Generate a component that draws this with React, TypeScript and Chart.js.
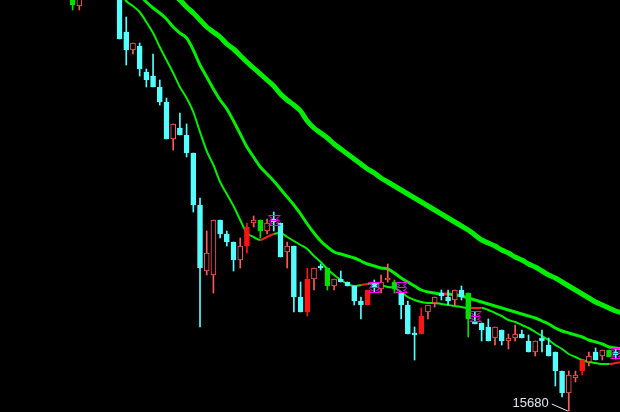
import React, { useEffect, useRef } from 'react';
import { Chart, registerables } from 'chart.js';

Chart.register(...registerables);

// ---- candle data (index 0..81) ----
const openPrices = [
  19810, 19730, 19820, 19980, 20150, 20080, 19960, 19860, 19470, 19290,
  19330, 19070, 19030, 18920, 18770, 18400, 18510, 18440, 18260, 17740,
  17080, 17040, 17590, 17450, 17370, 17190, 17330, 17560, 17590, 17480,
  17600, 17560, 17270, 17330, 16820, 16670, 17000, 17130, 17110, 16930,
  17000, 16970, 16930, 16780, 16740, 16950, 16900, 16990, 16970, 16860,
  16740, 16460, 16450, 16670, 16760, 16860, 16820, 16790, 16890, 16860,
  16570, 16560, 16520, 16410, 16490, 16380, 16410, 16450, 16380, 16270,
  16410, 16340, 16270, 16080, 15860, 16010, 16080, 16170, 16270, 16230,
  16290, 16270,
];
const highPrices = [
  19830, 19850, 20010, 20190, 20230, 20110, 19990, 19880, 19620, 19360,
  19360, 19100, 19250, 18990, 18810, 18550, 18660, 18550, 18260, 17810,
  17480, 17590, 17590, 17480, 17370, 17410, 17560, 17630, 17590, 17600,
  17670, 17560, 17370, 17330, 16970, 17110, 17110, 17150, 17110, 17000,
  17080, 16970, 16930, 16820, 16890, 16990, 17040, 17150, 16990, 16860,
  16780, 16520, 16710, 16740, 16820, 16890, 16890, 16890, 16930, 16860,
  16670, 16560, 16600, 16520, 16490, 16450, 16540, 16490, 16440, 16380,
  16490, 16410, 16270, 16080, 16080, 16080, 16190, 16270, 16310, 16290,
  16290, 16300,
];
const lowPrices = [
  19690, 19690, 19810, 19950, 20040, 19920, 19830, 19400, 19140, 19250,
  19030, 18920, 18920, 18740, 18400, 18290, 18440, 18220, 17670, 16520,
  17040, 16860, 17410, 17330, 17080, 17110, 17260, 17520, 17410, 17450,
  17480, 17220, 17110, 16670, 16670, 16630, 16890, 17090, 16890, 16890,
  16970, 16930, 16740, 16600, 16740, 16870, 16860, 16970, 16860, 16600,
  16450, 16190, 16450, 16600, 16720, 16790, 16740, 16740, 16790, 16420,
  16550, 16380, 16380, 16340, 16340, 16300, 16380, 16410, 16270, 16230,
  16270, 16230, 15930, 15820, 15680, 15970, 16040, 16130, 16190, 16190,
  16220, 16200,
];
const closePrices = [
  19740, 19810, 19980, 20150, 20080, 19960, 19880, 19400, 19290, 19360,
  19100, 18990, 18920, 18770, 18400, 18550, 18440, 18260, 17740, 17110,
  17260, 17590, 17450, 17370, 17190, 17330, 17520, 17590, 17480, 17560,
  17570, 17220, 17330, 16820, 16670, 17000, 17110, 17110, 16930, 17000,
  16970, 16930, 16780, 16740, 16890, 16920, 16970, 17010, 16900, 16740,
  16450, 16440, 16630, 16740, 16820, 16830, 16780, 16890, 16820, 16600,
  16550, 16490, 16380, 16520, 16380, 16410, 16450, 16410, 16270, 16380,
  16380, 16230, 16080, 15860, 16040, 16040, 16190, 16230, 16190, 16290,
  16220, 16240,
];
// c = cyan down, h = hollow red up, r = filled red, g = filled green
const candleStyle =
  'ghhhccccch' + 'ccccchcccc' + 'hhccchrhgh' + 'cchccrhcgh' + 'ccccrchhgc' +
  'ccrhhcchcg' + 'ccchchhcch' + 'cccchhrhch' + 'gc';

// ---- moving averages ----
const maShortStart = 7;
const maShort = [
  19890, 19780, 19730, 19670, 19570, 19460, 19320, 19190, 19060, 18920,
  18810, 18670, 18470, 18280, 18140, 17970, 17850, 17730, 17590, 17460,
  17420, 17390, 17420, 17450, 17460, 17420, 17380, 17340, 17300, 17230,
  17170, 17100, 17040, 16990, 16950, 16930, 16940, 16950, 16960, 16940,
  16920, 16910, 16870, 16820, 16790, 16770, 16760, 16760, 16750, 16740,
  16730, 16720, 16710, 16710, 16710, 16690, 16660, 16630, 16590, 16570,
  16540, 16510, 16470, 16430, 16390, 16340, 16300, 16250, 16220, 16190,
  16170, 16160, 16150, 16150, 16160, 16170,
];
const maShortRedFrom = [28, 29, 43, 59, 60, 80, 81];

const maMidStart = 10;
const maMid = [
  19840, 19770, 19710, 19660, 19600, 19520, 19460, 19410, 19290, 19140,
  19020, 18900, 18790, 18700, 18580, 18450, 18320, 18220, 18120, 18050,
  17980, 17900, 17820, 17740, 17650, 17550, 17460, 17380, 17320, 17270,
  17250, 17230, 17210, 17180, 17150, 17130, 17110, 17100, 17060, 17010,
  16970, 16930, 16890, 16870, 16860, 16850, 16850, 16840, 16830, 16810,
  16790, 16770, 16750, 16730, 16710, 16690, 16670, 16650, 16630, 16610,
  16580, 16550, 16510, 16480, 16460, 16440, 16420, 16390, 16370, 16350,
  16320, 16310, 16300,
];
const maMidRedFrom = [55];

const maLongStart = 15;
const maLong = [
  19850, 19790, 19720, 19660, 19590, 19520, 19470, 19420, 19350, 19300,
  19235, 19170, 19110, 19050, 18990, 18930, 18850, 18790, 18740, 18680,
  18580, 18510, 18460, 18410, 18350, 18300, 18250, 18200, 18150, 18100,
  18060, 18010, 17970, 17930, 17890, 17850, 17810, 17770, 17730, 17690,
  17650, 17610, 17570, 17530, 17490, 17440, 17390, 17360, 17330, 17290,
  17260, 17220, 17190, 17150, 17120, 17080, 17040, 17010, 16970, 16930,
  16890, 16850, 16810, 16770, 16740, 16710, 16680, 16660,
];

// ---- signal markers ----
const markerIndex = [30, 45, 49, 60, 81];
const markerPrice = [17590, 16920, 16920, 16630, 16260];

const CYAN = '#54ffff';
const HOLLOW_RED = '#ff5a5a';
const RED = '#ff1414';
const GREEN_BAR = '#00e000';
const MA_GREEN = '#00ee00';
const MA_RED = '#ff1e1e';

function candleColor(s: string) {
  if (s === 'c') return CYAN;
  if (s === 'h') return HOLLOW_RED;
  if (s === 'r') return RED;
  return GREEN_BAR;
}

export default function App() {
  const ref = useRef<HTMLCanvasElement | null>(null);

  useEffect(() => {
    document.body.style.background = '#000';
    const canvas = ref.current;
    if (!canvas) return;

    const n = openPrices.length;
    const idx = Array.from({ length: n }, (_, i) => i);
    const colors = idx.map((i) => candleColor(candleStyle[i]));
    const fills = idx.map((i) => (candleStyle[i] === 'h' ? '#000000' : colors[i]));

    const toPts = (arr: number[], start: number) => arr.map((v, k) => ({ x: start + k, y: v }));

    const bgPlugin = {
      id: 'bg',
      beforeDraw(chart: any) {
        const { ctx, width, height } = chart;
        ctx.save();
        ctx.fillStyle = '#000';
        ctx.fillRect(0, 0, width, height);
        ctx.restore();
      },
    };

    const overlayPlugin = {
      id: 'overlay',
      afterDatasetsDraw(chart: any) {
        const { ctx } = chart;
        const xs = chart.scales.x;
        const ys = chart.scales.y;
        ctx.save();
        ctx.strokeStyle = '#ff00ff';
        ctx.lineWidth = 1;
        markerIndex.forEach((mi, k) => {
          const cx = Math.round(xs.getPixelForValue(mi)) + 0.5;
          const cy = Math.round(ys.getPixelForValue(markerPrice[k])) + 0.5;
          ctx.beginPath();
          ctx.moveTo(cx - 6, cy - 5); ctx.lineTo(cx + 6, cy - 5);
          ctx.moveTo(cx - 4, cy); ctx.lineTo(cx + 4, cy);
          ctx.moveTo(cx - 6, cy + 5); ctx.lineTo(cx + 6, cy + 5);
          ctx.moveTo(cx - 5, cy - 4); ctx.lineTo(cx - 2, cy - 2); ctx.lineTo(cx - 5, cy);
          ctx.moveTo(cx + 5, cy - 4); ctx.lineTo(cx + 2, cy - 2); ctx.lineTo(cx + 5, cy);
          ctx.moveTo(cx - 5, cy + 1); ctx.lineTo(cx - 2, cy + 3); ctx.lineTo(cx - 5, cy + 4);
          ctx.moveTo(cx + 5, cy + 1); ctx.lineTo(cx + 2, cy + 3); ctx.lineTo(cx + 5, cy + 4);
          ctx.stroke();
        });

        // lowest-low annotation
        let lowIdx = 0;
        lowPrices.forEach((v, i) => { if (v < lowPrices[lowIdx]) lowIdx = i; });
        const px = xs.getPixelForValue(lowIdx);
        const py = ys.getPixelForValue(lowPrices[lowIdx]);
        ctx.strokeStyle = '#e8eef8';
        ctx.beginPath();
        ctx.moveTo(px - 1, py);
        ctx.lineTo(px - 17, py - 7);
        ctx.stroke();
        ctx.fillStyle = '#dfe6f2';
        ctx.font = '13px "Liberation Sans", Arial, sans-serif';
        ctx.textAlign = 'right';
        ctx.textBaseline = 'alphabetic';
        ctx.fillText(String(lowPrices[lowIdx]), px - 20, py - 4);
        ctx.restore();
      },
    };

    const segColor = (flags: number[]) => (c: any) =>
      flags.includes(c.p0.parsed.x) ? MA_RED : undefined;

    const chart = new Chart(canvas, {
      type: 'bar',
      data: {
        datasets: [
          {
            type: 'line',
            data: toPts(maLong, maLongStart),
            borderColor: MA_GREEN,
            borderWidth: 5,
            pointRadius: 0,
            cubicInterpolationMode: 'monotone',
            order: 5,
          } as any,
          {
            type: 'line',
            data: toPts(maMid, maMidStart),
            borderColor: MA_GREEN,
            borderWidth: 3,
            pointRadius: 0,
            cubicInterpolationMode: 'monotone',
            segment: { borderColor: segColor(maMidRedFrom) },
            order: 4,
          } as any,
          {
            type: 'line',
            data: toPts(maShort, maShortStart),
            borderColor: MA_GREEN,
            borderWidth: 2,
            pointRadius: 0,
            cubicInterpolationMode: 'monotone',
            segment: { borderColor: segColor(maShortRedFrom) },
            order: 3,
          } as any,
          {
            type: 'bar',
            data: idx.map((i) => ({ x: i, y: [lowPrices[i], highPrices[i]] })),
            backgroundColor: colors,
            borderWidth: 0,
            barThickness: 1,
            grouped: false,
            order: 2,
          } as any,
          {
            type: 'bar',
            data: idx.map((i) => ({ x: i, y: [openPrices[i], closePrices[i]] })),
            backgroundColor: fills,
            borderColor: colors,
            borderWidth: 1,
            borderSkipped: false,
            barThickness: 5,
            grouped: false,
            order: 1,
          } as any,
        ],
      },
      options: {
        animation: false,
        responsive: true,
        maintainAspectRatio: false,
        layout: { padding: 0 },
        plugins: { legend: { display: false }, tooltip: { enabled: false } },
        scales: {
          x: { type: 'linear', display: false, min: -10.83, max: 81.64, offset: false },
          y: { type: 'linear', display: false, min: 15670, max: 19790 },
        },
      } as any,
      plugins: [bgPlugin, overlayPlugin],
    });

    return () => chart.destroy();
  }, []);

  return (
    <div style={{ position: 'fixed', left: 0, top: 0, width: 620, height: 412, background: '#000' }}>
      <canvas ref={ref} />
    </div>
  );
}
